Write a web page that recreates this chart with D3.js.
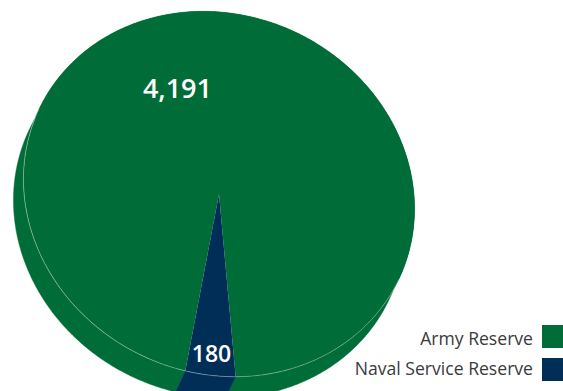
<!DOCTYPE html>
<html>
<head>
<meta charset="utf-8">
<script src="https://cdn.jsdelivr.net/npm/d3@7"></script>
<style>
  html, body { margin: 0; padding: 0; background: #fff; }
  svg { display: block; }
</style>
</head>
<body>
<svg id="chart" width="563" height="391"></svg>
<script>
// Reserve strength by branch
const categories = ["Army Reserve", "Naval Service Reserve"];
const values = [4191, 180];
const colors = ["#006d38", "#002e57"];

// Tilted-disc geometry (screen pixels)
const cx = 219, cy = 194;          // centre of the top face
const rx = 199, ry = 179;          // semi-axes of the top face
const tiltDeg = 25;                // rotation of the disc's major axis
const depth = [-10, 21];           // offset of the bottom face
const lastSliceMidDeg = 159.75;    // where the small slice is centred
const labelSpots = [{ angle: 316.5, r: 0.6, size: 27 }, { angle: null, r: 0.88, size: 23 }];

const svg = d3.select("#chart");
const tilt = tiltDeg * Math.PI / 180;
const cosT = Math.cos(tilt), sinT = Math.sin(tilt);

// point on the tilted disc for a pie angle (clockwise from 12 o'clock) and relative radius
function proj(angle, r) {
  const u = rx * r * Math.sin(angle), v = -ry * r * Math.cos(angle);
  return [cx + u * cosT - v * sinT, cy + u * sinT + v * cosT];
}

const total = d3.sum(values);
const lastSpan = values[values.length - 1] / total * 2 * Math.PI;
const start = lastSliceMidDeg * Math.PI / 180 + lastSpan / 2 - 2 * Math.PI;
const pie = d3.pie().sort(null).startAngle(start).endAngle(start + 2 * Math.PI);
const arcs = pie(values);

const line = d3.line();

// side walls of each slice
const walls = svg.append("g");
arcs.forEach((d, i) => {
  const n = Math.max(12, Math.ceil((d.endAngle - d.startAngle) / 0.01));
  const top = d3.range(n + 1).map(k => proj(d.startAngle + (d.endAngle - d.startAngle) * k / n, 1));
  const bottom = top.map(p => [p[0] + depth[0], p[1] + depth[1]]).reverse();
  walls.append("path")
    .attr("d", line(top.concat(bottom)) + "Z")
    .attr("fill", colors[i])
    .attr("stroke", colors[i])
    .attr("stroke-width", 0.4);
});

// top face
const arcGen = d3.arc().innerRadius(0).outerRadius(1);
svg.append("g")
  .attr("transform", `translate(${cx},${cy}) rotate(${tiltDeg}) scale(${rx},${ry})`)
  .selectAll("path")
  .data(arcs)
  .join("path")
  .attr("d", arcGen)
  .attr("fill", (d, i) => colors[i]);

// faint highlight along the front rim of the top face
function rimVisible(a) {
  const nu = Math.sin(a) / rx, nv = -Math.cos(a) / ry;
  const nx = nu * cosT - nv * sinT, ny = nu * sinT + nv * cosT;
  return nx * depth[0] + ny * depth[1] > 0;
}
const steps = 1440;
const a0 = Math.atan2(-depth[0], depth[1]) + Math.PI; // back side, never visible
const runs = [];
let cur = null;
for (let k = 0; k <= steps; k++) {
  const a = a0 + 2 * Math.PI * k / steps;
  if (rimVisible(a)) {
    if (!cur) { cur = []; runs.push(cur); }
    cur.push(proj(a, 1));
  } else cur = null;
}
svg.append("g").selectAll("path")
  .data(runs)
  .join("path")
  .attr("d", line)
  .attr("fill", "none")
  .attr("stroke", "rgba(255,255,255,0.45)")
  .attr("stroke-width", 0.7);

// value labels
const fmt = d3.format(",");
svg.append("g").selectAll("text")
  .data(arcs)
  .join("text")
  .each(function (d, i) {
    const spot = labelSpots[i];
    const ang = spot.angle === null ? (d.startAngle + d.endAngle) / 2 : spot.angle * Math.PI / 180;
    const p = proj(ang, spot.r);
    d3.select(this)
      .attr("x", p[0]).attr("y", p[1])
      .attr("dy", "0.36em")
      .attr("font-size", spot.size);
  })
  .attr("text-anchor", "middle")
  .attr("font-family", "'Open Sans', sans-serif")
  .attr("font-weight", 600)
  .attr("fill", "#fff")
  .text(d => fmt(d.value));

// legend
const legend = svg.append("g");
const legendRows = [345, 375];
const swatchTops = [325, 358];
categories.forEach((c, i) => {
  legend.append("text")
    .attr("x", 533).attr("y", legendRows[i])
    .attr("text-anchor", "end")
    .attr("font-family", "'Open Sans', sans-serif")
    .attr("font-size", 17.6)
    .attr("fill", "#3a3a3a")
    .text(c);
  legend.append("rect")
    .attr("x", 542).attr("y", swatchTops[i])
    .attr("width", 22).attr("height", 23)
    .attr("fill", colors[i]);
});
</script>
</body>
</html>
